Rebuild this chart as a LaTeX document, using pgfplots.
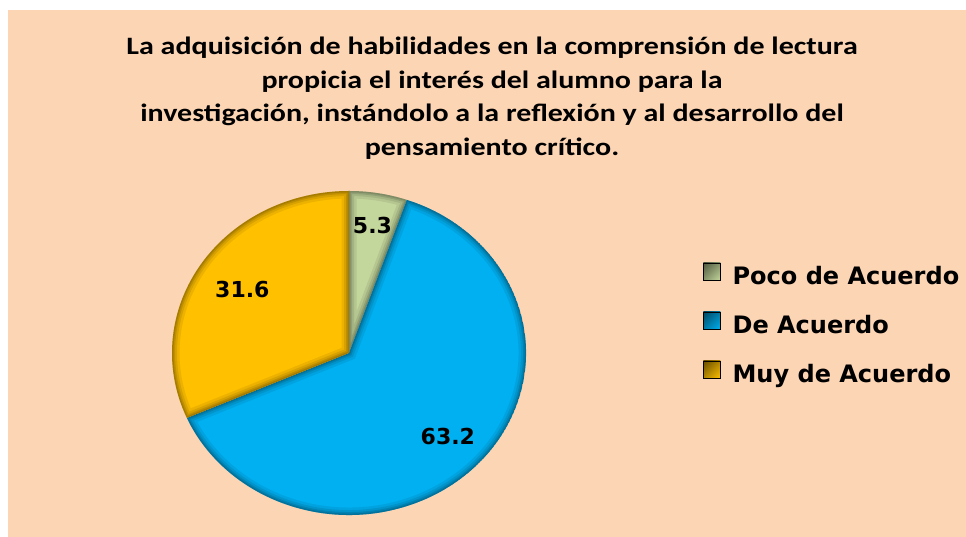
\documentclass[border=0pt]{standalone}
\usepackage{fontspec}
\usepackage{pgfplots}
\usepackage{pgfplotstable}
\pgfplotsset{compat=1.18}
\usetikzlibrary{shadings}
\setmainfont{Carlito}[FakeStretch=1.2]
\newfontfamily\labelfont{DejaVu Sans}[BoldFont={DejaVu Sans Bold}]

\definecolor{bgpeach}{HTML}{FCD5B5}
\definecolor{pocoC}{HTML}{C3D69B}
\definecolor{deC}{HTML}{00B0F0}
\definecolor{muyC}{HTML}{FFC000}

\pgfplotstableread{
value r
5.3   0.80
63.2  0.76
31.6  0.72
}\piedata
\def\pietotal{100.1}

% one wedge of the pie, from angle #1 to angle #2 (degrees, axis units)
\newcommand{\wedgepath}[2]{(axis cs:0,0) -- (axis cs:{cos(#1)},{sin(#1)}) arc[start angle=#1, end angle=#2, x radius=1, y radius=1] -- cycle}
\newcommand{\piewedge}[3]{%
  \begin{scope}
    \clip \wedgepath{#1}{#2};
    \fill[#3] \wedgepath{#1}{#2};
    \draw[black, opacity=0.07, line width=15bp] \wedgepath{#1}{#2};
    \draw[black, opacity=0.09, line width=10bp] \wedgepath{#1}{#2};
    \draw[black, opacity=0.11, line width=6bp] \wedgepath{#1}{#2};
    \draw[black, opacity=0.13, line width=3bp] \wedgepath{#1}{#2};
  \end{scope}}

% legend square with a dark corner
\newcommand{\legsq}[1]{\shade[upper left=#1!40!black, lower right=#1, upper right=#1!70!black, lower left=#1!70!black] (0bp,-4bp) rectangle (17bp,13bp);}

\begin{document}
\begin{tikzpicture}[x=1bp, y=1bp]
\useasboundingbox (0,0) rectangle (966,537);
\fill[white] (0,0) rectangle (966,537);
\fill[bgpeach] (8,0) rectangle (966,527);

\node[font=\bfseries\fontsize{25bp}{33.5bp}\selectfont, align=center] at (492,439)
  {La adquisición de habilidades en la comprensión de lectura\\
   propicia el interés del alumno para la\\
   investigación, instándolo a la reflexión y al desarrollo del\\
   pensamiento crítico.};

\begin{axis}[at={(349bp,184bp)}, anchor=origin, scale only axis, width=354bp, height=324bp,
  xmin=-1, xmax=1, ymin=-1, ymax=1, hide axis, clip=false,
  legend style={at={(rel axis cs:1.5,0.589)}, anchor=west, draw=none, fill=none,
    font=\labelfont\bfseries\fontsize{24bp}{28bp}\selectfont, row sep=24bp, column sep=10bp,
    inner sep=0pt, cells={anchor=west}},
  legend cell align=left]
\def\cum{0}
\pgfplotsforeachungrouped \i/\col in {0/pocoC, 1/deC, 2/muyC}{%
  \pgfplotstablegetelem{\i}{value}\of\piedata \let\v\pgfplotsretval
  \pgfplotstablegetelem{\i}{r}\of\piedata \let\rr\pgfplotsretval
  \pgfmathsetmacro\a{90-3.6/\pietotal*100*\cum}
  \pgfmathsetmacro\b{90-3.6/\pietotal*100*(\cum+\v)}
  \pgfmathsetmacro\m{(\a+\b)/2}
  \pgfmathsetmacro\lx{\rr*cos(\m)}
  \pgfmathsetmacro\ly{\rr*sin(\m)}
  \edef\temp{\noexpand\piewedge{\a}{\b}{\col}
    \noexpand\node[font=\noexpand\labelfont\noexpand\bfseries\noexpand\fontsize{22bp}{26bp}\noexpand\selectfont]
      at (axis cs:\lx,\ly) {\v};}
  \temp
  \pgfmathsetmacro\cum{\cum+\v}
}
\addlegendimage{legend image code/.code={\legsq{pocoC}}}
\addlegendentry{Poco de Acuerdo}
\addlegendimage{legend image code/.code={\legsq{deC}}}
\addlegendentry{De Acuerdo}
\addlegendimage{legend image code/.code={\legsq{muyC}}}
\addlegendentry{Muy de Acuerdo}
\end{axis}
\end{tikzpicture}
\end{document}
